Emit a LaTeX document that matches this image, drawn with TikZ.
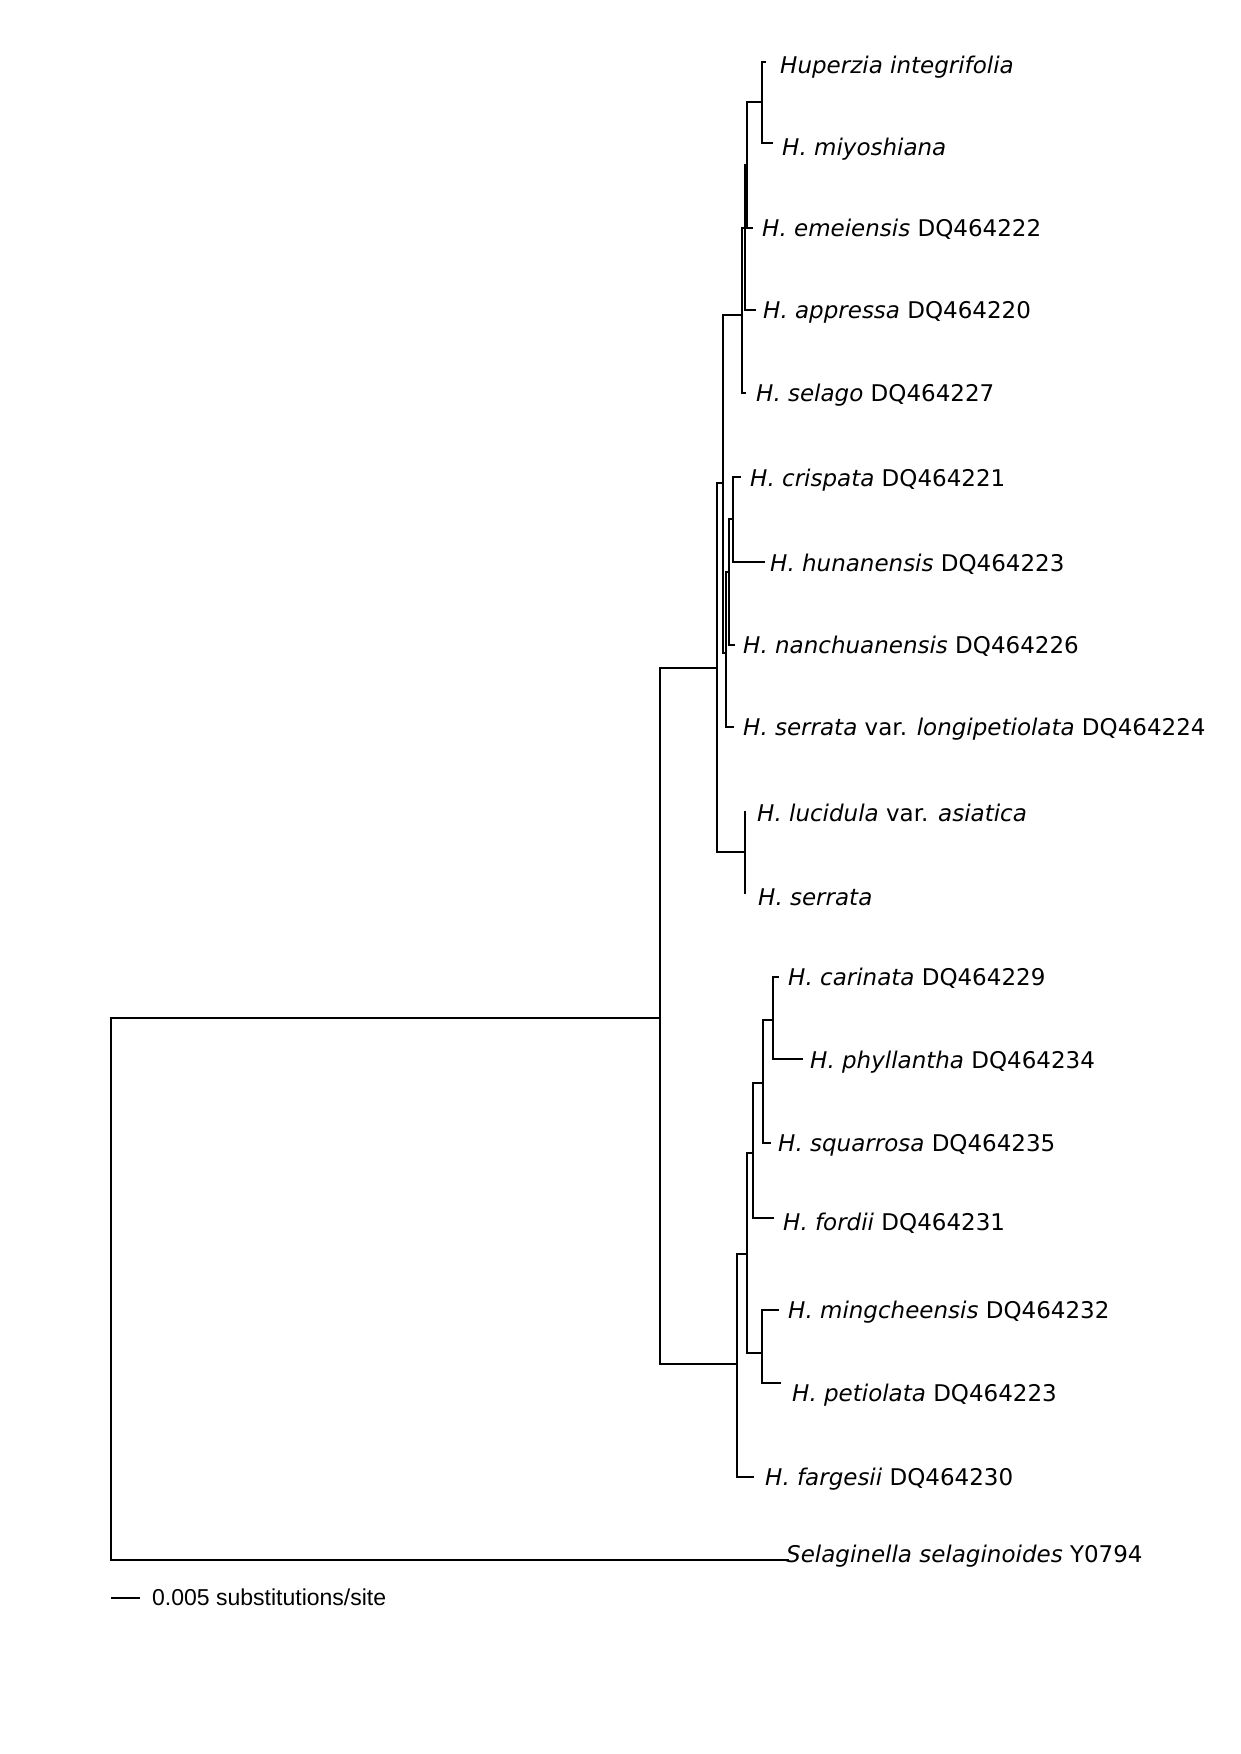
\documentclass[tikz,border=0pt]{standalone}
\usepackage{fontspec}
\setmainfont{DejaVu Sans}
\newfontfamily\scalefam{Liberation Sans}
\begin{document}
\begin{tikzpicture}[x=1pt,y=-1pt,
  br/.style={line width=2.5pt, line cap=rect},
  lbl/.style={anchor=base west, inner sep=0pt, font=\fontsize{23}{27}\selectfont},
  sclbl/.style={anchor=west, inner sep=0pt, font=\scalefam\fontsize{23}{27}\selectfont},
]
\useasboundingbox[fill=white] (0,0) rectangle (1240,1754);
% ---------- internal nodes ----------
\coordinate (root) at (111,1300);
\coordinate (ig)   at (660,1018);
\coordinate (t9)   at (717,668);
\coordinate (t5)   at (723,483);
\coordinate (t4)   at (742,315);
\coordinate (t3)   at (745,228);
\coordinate (t2)   at (747,165);
\coordinate (t1)   at (762,102);
\coordinate (t8)   at (726,653);
\coordinate (t7)   at (729,572);
\coordinate (t6)   at (733,519);
\coordinate (t10)  at (745,852);
\coordinate (b6)   at (737,1364);
\coordinate (b5)   at (747,1254);
\coordinate (b3)   at (753,1153);
\coordinate (b2)   at (763,1083);
\coordinate (b1)   at (773,1020);
\coordinate (b4)   at (762,1353);
% ---------- tips ----------
\coordinate (integ) at (765,62);
\coordinate (miyo)  at (772,143);
\coordinate (emei)  at (752,228);
\coordinate (appr)  at (755,310);
\coordinate (sela)  at (745,393);
\coordinate (cris)  at (740,477);
\coordinate (huna)  at (764,562);
\coordinate (nanc)  at (734,645);
\coordinate (long)  at (733,727);
\coordinate (luci)  at (745,812);
\coordinate (serr)  at (745,893);
\coordinate (cari)  at (778,977);
\coordinate (phyl)  at (802,1059);
\coordinate (squa)  at (770,1143);
\coordinate (ford)  at (773,1218);
\coordinate (ming)  at (778,1310);
\coordinate (peti)  at (780,1383);
\coordinate (farg)  at (753,1477);
\coordinate (selg)  at (788,1560);
% ---------- branches ----------
\draw[br] (root) |- (ig);
\draw[br] (root) |- (selg);
\draw[br] (ig) |- (t9);
\draw[br] (ig) |- (b6);
\draw[br] (t9) |- (t5);
\draw[br] (t9) |- (t10);
\draw[br] (t5) |- (t4);
\draw[br] (t5) |- (t8);
\draw[br] (t4) |- (t3);
\draw[br] (t4) |- (sela);
\draw[br] (t3) |- (t2);
\draw[br] (t3) |- (appr);
\draw[br] (t2) |- (t1);
\draw[br] (t2) |- (emei);
\draw[br] (t1) |- (integ);
\draw[br] (t1) |- (miyo);
\draw[br] (t8) |- (t7);
\draw[br] (t8) |- (long);
\draw[br] (t7) |- (t6);
\draw[br] (t7) |- (nanc);
\draw[br] (t6) |- (cris);
\draw[br] (t6) |- (huna);
\draw[br] (t10) |- (luci);
\draw[br] (t10) |- (serr);
\draw[br] (b6) |- (b5);
\draw[br] (b6) |- (farg);
\draw[br] (b5) |- (b3);
\draw[br] (b5) |- (b4);
\draw[br] (b3) |- (b2);
\draw[br] (b3) |- (ford);
\draw[br] (b2) |- (b1);
\draw[br] (b2) |- (squa);
\draw[br] (b1) |- (cari);
\draw[br] (b1) |- (phyl);
\draw[br] (b4) |- (ming);
\draw[br] (b4) |- (peti);
% ---------- labels ----------
\node[lbl] (Linteg) at (780,73)  {\textit{Huperzia integrifolia}};
\node[lbl] (Lmiyo)  at (782,155) {\textit{H. miyoshiana}};
\node[lbl] (Lemei)  at (762,236) {\textit{H. emeiensis} DQ464222};
\node[lbl] (Lappr)  at (763,318) {\textit{H. appressa} DQ464220};
\node[lbl] (Lsela)  at (756,401) {\textit{H. selago} DQ464227};
\node[lbl] (Lcris)  at (750,486) {\textit{H. crispata} DQ464221};
\node[lbl] (Lhuna)  at (770,571) {\textit{H. hunanensis} DQ464223};
\node[lbl] (Lnanc)  at (743,653) {\textit{H. nanchuanensis} DQ464226};
\node[lbl] (Llong)  at (743,735) {\textit{H. serrata} var. \textit{longipetiolata} DQ464224};
\node[lbl] (Lluci)  at (757,821) {\textit{H. lucidula} var. \textit{asiatica}};
\node[lbl] (Lserr)  at (758,905) {\textit{H. serrata}};
\node[lbl] (Lcari)  at (788,985) {\textit{H. carinata} DQ464229};
\node[lbl] (Lphyl)  at (810,1068) {\textit{H. phyllantha} DQ464234};
\node[lbl] (Lsqua)  at (778,1151) {\textit{H. squarrosa} DQ464235};
\node[lbl] (Lford)  at (783,1230) {\textit{H. fordii} DQ464231};
\node[lbl] (Lming)  at (788,1318) {\textit{H. mingcheensis} DQ464232};
\node[lbl] (Lpeti)  at (792,1401) {\textit{H. petiolata} DQ464223};
\node[lbl] (Lfarg)  at (765,1485) {\textit{H. fargesii} DQ464230};
\node[lbl] (Lselg)  at (786,1562) {\textit{Selaginella selaginoides} Y0794};
% ---------- scale bar ----------
\coordinate (sb1) at (111,1598);
\coordinate (sb2) at (140,1598);
\draw[line width=2pt] (sb1) -- (sb2);
\node[sclbl] (Lscale) at (152,1597) {0.005 substitutions/site};
\end{tikzpicture}
\end{document}
